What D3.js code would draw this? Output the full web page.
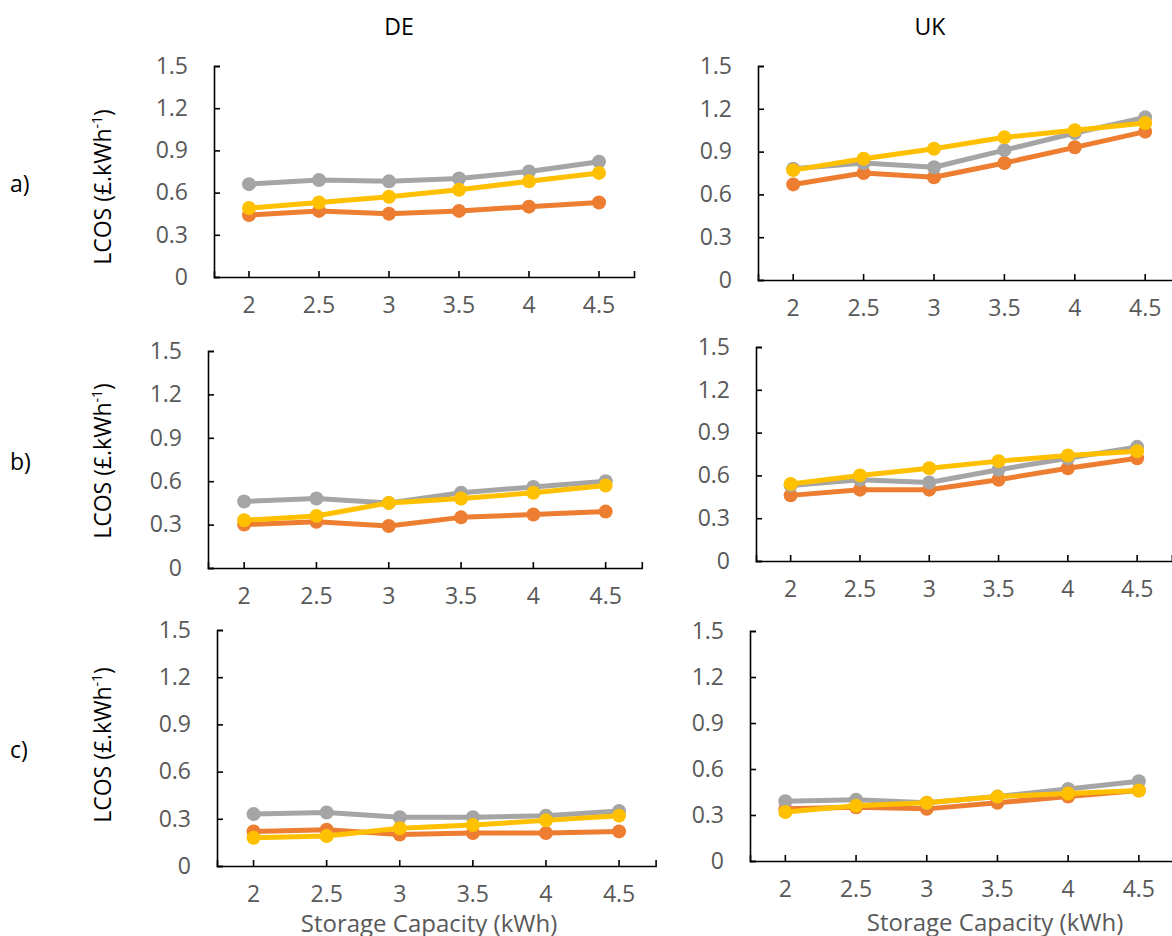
<!DOCTYPE html>
<html>
<head>
<meta charset="utf-8">
<script src="https://cdn.jsdelivr.net/npm/d3@7"></script>
<style>
  body { margin: 0; background: #fff; }
  svg { display: block; font-family: "Open Sans", "Noto Sans", sans-serif; }
</style>
</head>
<body>
<div id="chart"></div>
<script>
// storage capacity categories (kWh) and LCOS tick values
const capacity = ["2", "2.5", "3", "3.5", "4", "4.5"];
const lcosTicks = [0, 0.3, 0.6, 0.9, 1.2, 1.5];

// a) DE
const deA_orange = [0.44, 0.47, 0.45, 0.47, 0.50, 0.53];
const deA_gray   = [0.66, 0.69, 0.68, 0.70, 0.75, 0.82];
const deA_yellow = [0.49, 0.53, 0.57, 0.62, 0.68, 0.74];
// a) UK
const ukA_orange = [0.67, 0.75, 0.72, 0.82, 0.93, 1.04];
const ukA_gray   = [0.78, 0.82, 0.79, 0.91, 1.03, 1.14];
const ukA_yellow = [0.77, 0.85, 0.92, 1.00, 1.05, 1.10];
// b) DE
const deB_orange = [0.30, 0.32, 0.29, 0.35, 0.37, 0.39];
const deB_gray   = [0.46, 0.48, 0.45, 0.52, 0.56, 0.60];
const deB_yellow = [0.33, 0.36, 0.45, 0.48, 0.52, 0.57];
// b) UK
const ukB_orange = [0.46, 0.50, 0.50, 0.57, 0.65, 0.72];
const ukB_gray   = [0.53, 0.57, 0.55, 0.64, 0.72, 0.80];
const ukB_yellow = [0.54, 0.60, 0.65, 0.70, 0.74, 0.77];
// c) DE
const deC_orange = [0.22, 0.23, 0.20, 0.21, 0.21, 0.22];
const deC_gray   = [0.33, 0.34, 0.31, 0.31, 0.32, 0.35];
const deC_yellow = [0.18, 0.19, 0.24, 0.26, 0.29, 0.32];
// c) UK
const ukC_orange = [0.34, 0.35, 0.34, 0.38, 0.42, 0.46];
const ukC_gray   = [0.39, 0.40, 0.38, 0.42, 0.47, 0.52];
const ukC_yellow = [0.32, 0.36, 0.38, 0.42, 0.44, 0.46];

const colOrange = "#ED7D31", colGray = "#A5A5A5", colYellow = "#FFC000";
const tickColor = "#595959";

// panel placement (x0 = y axis, band = category width, top = 1.5, bottom = 0)
let panels = [
  {x0: 214, band: 70.0, top: 66,  bottom: 277, series: [deA_orange, deA_gray, deA_yellow]},
  {x0: 758, band: 70.4, top: 66,  bottom: 280, series: [ukA_orange, ukA_gray, ukA_yellow]},
  {x0: 208, band: 72.3, top: 351, bottom: 568, series: [deB_orange, deB_gray, deB_yellow]},
  {x0: 756, band: 69.3, top: 347, bottom: 561, series: [ukB_orange, ukB_gray, ukB_yellow]},
  {x0: 217, band: 73.1, top: 630, bottom: 866, series: [deC_orange, deC_gray, deC_yellow]},
  {x0: 750, band: 70.7, top: 631, bottom: 861, series: [ukC_orange, ukC_gray, ukC_yellow]}
];
let colors = [colOrange, colGray, colYellow];

let svg = d3.select("#chart").append("svg")
  .attr("width", 1172)
  .attr("height", 936);

panels.forEach(function(p) {
  let x = d3.scaleBand().domain(capacity).range([p.x0, p.x0 + 6 * p.band]);
  let y = d3.scaleLinear().domain([0, 1.5]).range([p.bottom, p.top]);
  let cx = d => x(d) + x.bandwidth() / 2;

  let g = svg.append("g");

  let yAxis = g.append("g")
    .attr("transform", "translate(" + p.x0 + ",0)")
    .call(d3.axisLeft(y).tickValues(lcosTicks).tickSize(-6).tickPadding(26)
      .tickFormat(d => d === 0 ? "0" : d.toFixed(1)));

  let xAxis = g.append("g")
    .attr("transform", "translate(0," + p.bottom + ")")
    .call(d3.axisBottom(x).tickSize(-6).tickPadding(20));

  [xAxis, yAxis].forEach(function(ax) {
    ax.select(".domain").attr("stroke", "#000").attr("stroke-width", 1.6);
    ax.selectAll(".tick line").attr("stroke", "#000").attr("stroke-width", 1.6);
    ax.selectAll(".tick text").attr("fill", tickColor)
      .style("font-size", "23px").style("font-family", "'Open Sans', sans-serif");
  });

  let line = d3.line().x((d, i) => cx(capacity[i])).y(d => y(d));

  p.series.forEach(function(vals, si) {
    let sg = g.append("g");
    sg.append("path")
      .datum(vals)
      .attr("d", line)
      .attr("fill", "none")
      .attr("stroke", colors[si])
      .attr("stroke-width", 5)
      .attr("stroke-linejoin", "round");
    sg.selectAll("circle")
      .data(vals)
      .join("circle")
      .attr("cx", (d, i) => cx(capacity[i]))
      .attr("cy", d => y(d))
      .attr("r", 7)
      .attr("fill", colors[si]);
  });
});

// column titles
svg.append("text").attr("x", 399).attr("y", 35).attr("text-anchor", "middle")
  .style("font-size", "23px").text("DE");
svg.append("text").attr("x", 930).attr("y", 35).attr("text-anchor", "middle")
  .style("font-size", "23px").text("UK");

// row labels and y axis titles
let rows = [
  {label: "a)", labelY: 192, titleY: 187},
  {label: "b)", labelY: 470, titleY: 461},
  {label: "c)", labelY: 758, titleY: 745}
];
rows.forEach(function(r) {
  svg.append("text").attr("x", 10).attr("y", r.labelY)
    .style("font-size", "23px").text(r.label);
  let t = svg.append("text")
    .attr("transform", "translate(111," + r.titleY + ") rotate(-90)")
    .attr("text-anchor", "middle")
    .style("font-size", "23px");
  t.append("tspan").text("LCOS (£.kWh");
  t.append("tspan").attr("dy", -9).style("font-size", "14px").text("-1");
  t.append("tspan").attr("dy", 9).text(")");
});

// x axis titles
svg.append("text").attr("x", 429).attr("y", 932).attr("text-anchor", "middle")
  .attr("fill", tickColor).style("font-size", "24px").text("Storage Capacity (kWh)");
svg.append("text").attr("x", 995).attr("y", 931).attr("text-anchor", "middle")
  .attr("fill", tickColor).style("font-size", "24px").text("Storage Capacity (kWh)");
</script>
</body>
</html>
